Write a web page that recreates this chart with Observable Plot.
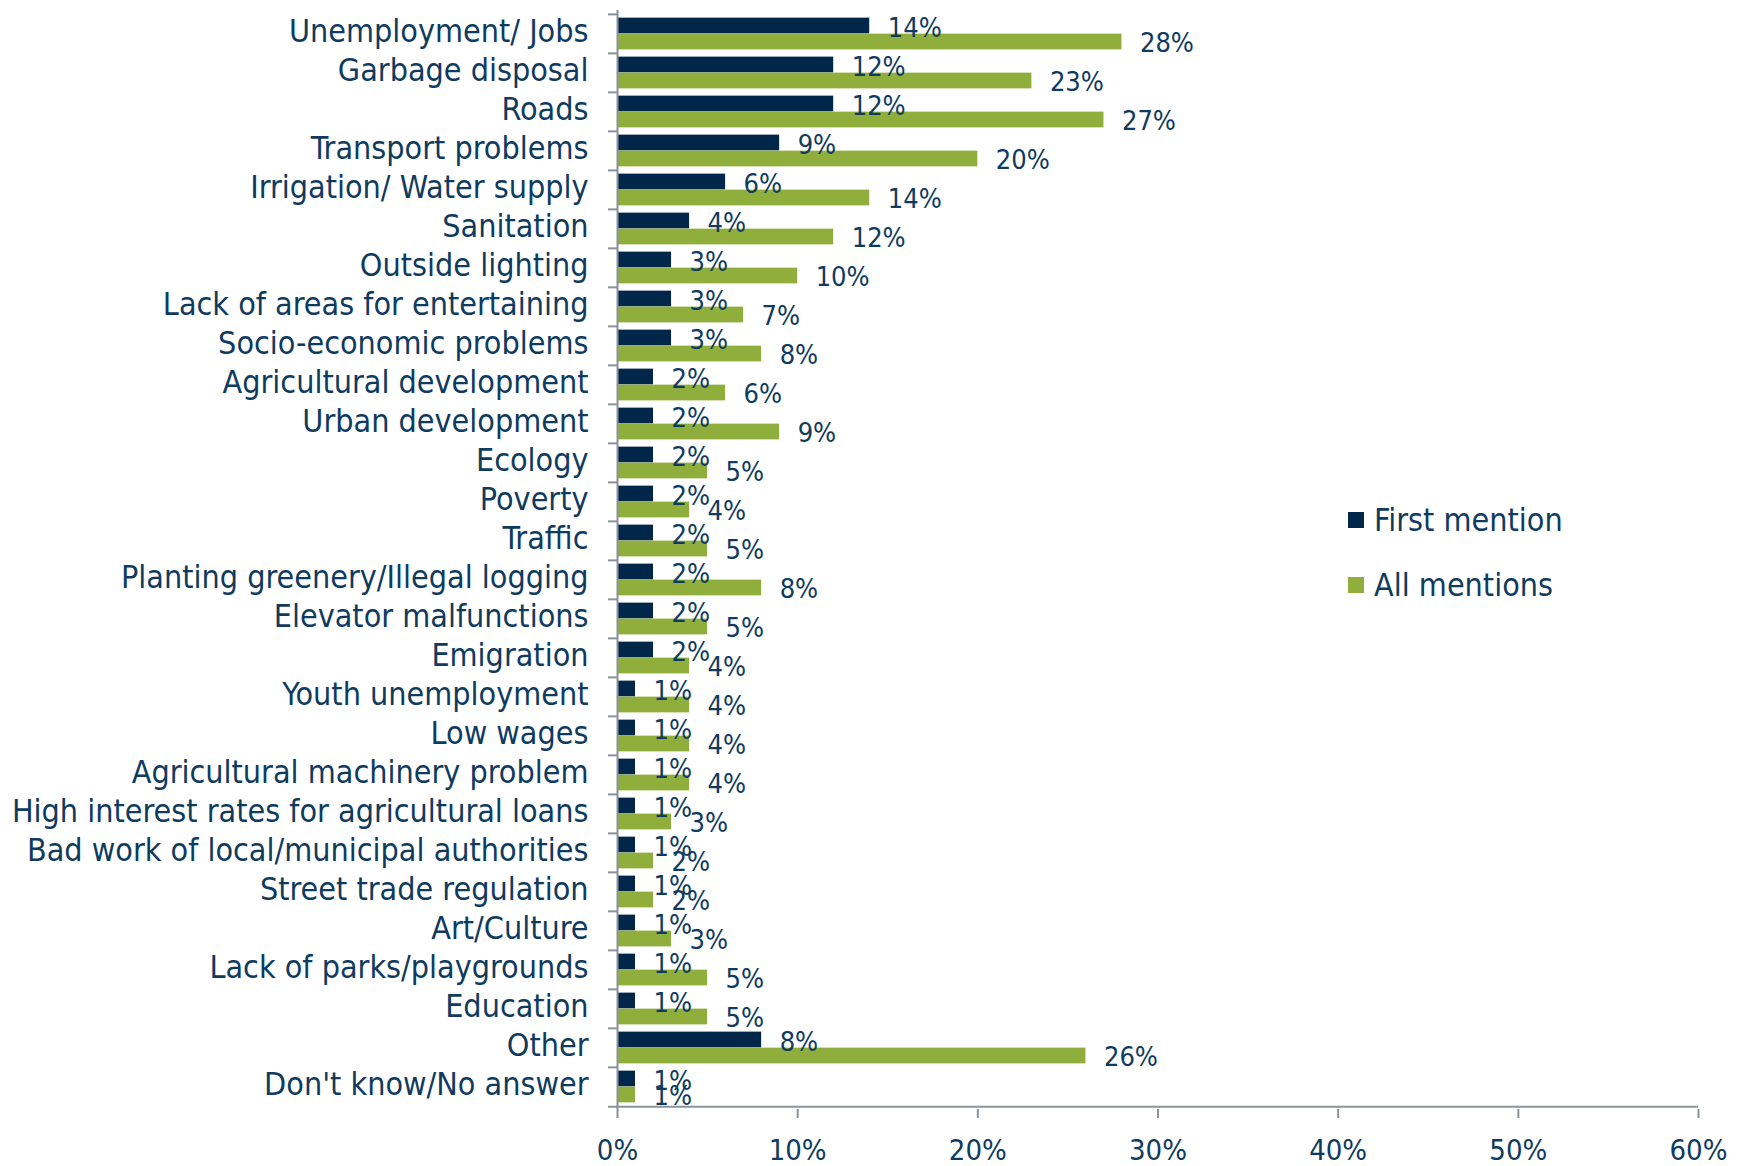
<!DOCTYPE html>
<html>
<head>
<meta charset="utf-8">
<script src="https://cdn.jsdelivr.net/npm/d3@7"></script>
<script src="https://cdn.jsdelivr.net/npm/@observablehq/plot@0.6"></script>
<style>
  html, body { margin: 0; padding: 0; background: #ffffff; }
  #wrap { position: relative; width: 1740px; height: 1166px; }
  #legend { position: absolute; left: 1348px; top: 499px; font-family: 'DejaVu Sans Condensed', 'DejaVu Sans', sans-serif; font-stretch: condensed; font-size: 32px; color: #0f3b5f; }
  .item { display: flex; align-items: center; height: 42px; margin-bottom: 23px; }
  .sw { width: 16px; height: 16px; margin-right: 10px; }
</style>
</head>
<body>
<div id="wrap"><div id="chart"></div><div id="legend"></div></div>
<script>
const categories = [
  "Unemployment/ Jobs",
  "Garbage disposal",
  "Roads",
  "Transport problems",
  "Irrigation/ Water supply",
  "Sanitation",
  "Outside lighting",
  "Lack of areas for entertaining",
  "Socio-economic problems",
  "Agricultural development",
  "Urban development",
  "Ecology",
  "Poverty",
  "Traffic",
  "Planting greenery/Illegal logging",
  "Elevator malfunctions",
  "Emigration",
  "Youth unemployment",
  "Low wages",
  "Agricultural machinery problem",
  "High interest rates for agricultural loans",
  "Bad work of local/municipal authorities",
  "Street trade regulation",
  "Art/Culture",
  "Lack of parks/playgrounds",
  "Education",
  "Other",
  "Don't know/No answer"
];
const firstMention = [14,12,12,9,6,4,3,3,3,2,2,2,2,2,2,2,2,1,1,1,1,1,1,1,1,1,8,1];
const allMentions  = [28,23,27,20,14,12,10,7,8,6,9,5,4,5,8,5,4,4,4,4,3,2,2,3,5,5,26,1];
const seriesNames = ["First mention", "All mentions"];
const xTicks = [0,10,20,30,40,50,60];

const colors = {first: "#00264a", all: "#8fae3c", text: "#0f3b5f", axis: "#8a929b"};

const rows = categories.map((c, i) => ({cat: c, first: firstMention[i], all: allMentions[i]}));

const W = 1740, H = 1166;
const mt = 10, mb = 57, ml = 617, mr = 42;
const step = (H - mt - mb) / categories.length;
const barH = 16;
const pad = (step - 2 * barH) / 2;
const font = "'DejaVu Sans Condensed', 'DejaVu Sans', sans-serif";

const chart = Plot.plot({
  width: W,
  height: H,
  marginLeft: ml,
  marginRight: mr,
  marginTop: mt,
  marginBottom: mb,
  style: {fontFamily: font, fontSize: "29px", color: colors.text, background: "#ffffff", fontStretch: "condensed"},
  x: {domain: [0, 60], label: null},
  y: {domain: categories, padding: 0, label: null},
  marks: [
    Plot.barX(rows, {x: "first", y: "cat", fill: colors.first, insetTop: pad, insetBottom: step - pad - barH}),
    Plot.barX(rows, {x: "all", y: "cat", fill: colors.all, insetTop: pad + barH, insetBottom: pad}),
    Plot.ruleX([0], {stroke: colors.axis, strokeWidth: 2}),
    Plot.ruleY(categories, {y: d => d, x1: -0.5, x2: 0, dy: -step / 2, stroke: colors.axis, strokeWidth: 2}),
    Plot.ruleY([categories[categories.length - 1]], {y: d => d, x1: -0.5, x2: 60, dy: step / 2, stroke: colors.axis, strokeWidth: 2}),
    Plot.axisX({ticks: xTicks, tickFormat: d => d + "%", tickSize: 9, tickPadding: 21, stroke: colors.axis, strokeWidth: 2, fill: colors.text, fontSize: 29, label: null}),
    Plot.axisY({tickSize: 0, tickPadding: 29, dy: -2, fill: colors.text, fontSize: 32, label: null}),
    Plot.text(rows, {x: "first", y: "cat", text: d => d.first + "%", dx: 18, dy: pad + barH / 2 - step / 2 + 2, textAnchor: "start", fill: colors.text, fontSize: 27}),
    Plot.text(rows, {x: "all", y: "cat", text: d => d.all + "%", dx: 18, dy: pad + 1.5 * barH - step / 2 + 1, textAnchor: "start", fill: colors.text, fontSize: 27})
  ]
});
document.getElementById("chart").appendChild(chart);

const legend = document.getElementById("legend");
[[seriesNames[0], colors.first], [seriesNames[1], colors.all]].forEach(([name, col]) => {
  const item = document.createElement("div");
  item.className = "item";
  const sw = document.createElement("div");
  sw.className = "sw";
  sw.style.background = col;
  const t = document.createElement("span");
  t.textContent = name;
  item.appendChild(sw);
  item.appendChild(t);
  legend.appendChild(item);
});
</script>
</body>
</html>
